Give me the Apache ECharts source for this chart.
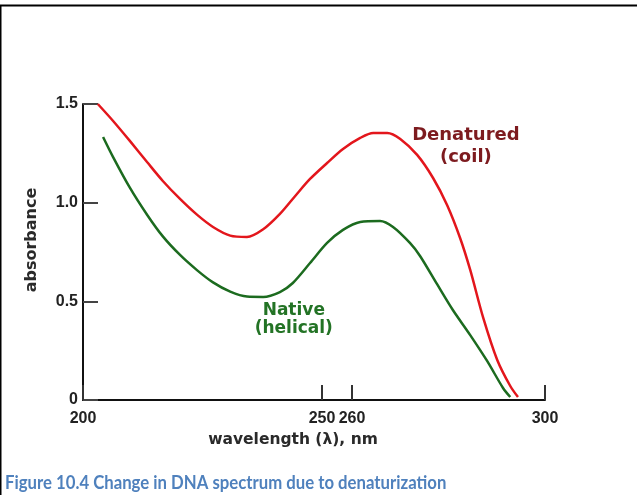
<!DOCTYPE html>
<html>
<head>
<meta charset="utf-8">
<script src="https://cdn.jsdelivr.net/npm/echarts@6/dist/echarts.min.js"></script>
<style>
html,body{margin:0;padding:0;background:#fff;}
#chart{width:637px;height:495px;}
</style>
</head>
<body>
<div id="chart"></div>
<script>
// ---- data ----
const wavelengthTicks = [200, 250, 260, 300];
const absorbanceTicks = [0, 0.5, 1.0, 1.5];

const denaturedWl  = [203.1, 206.3, 209.8, 213.4, 216.7, 220.3, 223.9, 227.2, 230.8, 234.3, 237.7, 241.2, 244.4, 247.5, 251.7, 257.0, 261.7, 264.4, 267.3, 270.0, 273.5, 276.8, 279.7, 282.4, 284.5, 287.2, 290.1, 292.8, 294.4];
const denaturedAbs = [1.500, 1.414, 1.313, 1.206, 1.110, 1.019, 0.938, 0.877, 0.833, 0.826, 0.865, 0.943, 1.034, 1.120, 1.201, 1.272, 1.328, 1.353, 1.353, 1.323, 1.242, 1.125, 0.988, 0.821, 0.659, 0.416, 0.203, 0.071, 0.015];

const nativeWl  = [204.2, 206.3, 209.8, 213.4, 216.7, 220.3, 223.9, 227.2, 230.8, 234.3, 237.7, 241.2, 243.9, 247.5, 251.7, 257.0, 261.7, 265.8, 268.5, 272.0, 274.1, 277.6, 280.9, 284.5, 288.0, 291.3, 292.8];
const nativeAbs = [1.333, 1.231, 1.076, 0.939, 0.829, 0.735, 0.657, 0.596, 0.549, 0.524, 0.522, 0.547, 0.593, 0.694, 0.796, 0.862, 0.902, 0.907, 0.877, 0.796, 0.730, 0.588, 0.456, 0.329, 0.198, 0.061, 0.015];

// The printed wavelength axis is not drawn to scale: tick k sits at this fraction of the axis length.
const tickFractions = [0, 0.5173, 0.5823, 1];

function warp(w) {
  const t = wavelengthTicks, f = tickFractions;
  let i = 0;
  while (i < t.length - 2 && w > t[i + 1]) i++;
  const fr = f[i] + (w - t[i]) / (t[i + 1] - t[i]) * (f[i + 1] - f[i]);
  return 200 + 100 * fr;
}
function unwarp(u) {
  const t = wavelengthTicks, f = tickFractions;
  const fr = (u - 200) / 100;
  let i = 0;
  while (i < f.length - 2 && fr > f[i + 1]) i++;
  return t[i] + (fr - f[i]) / (f[i + 1] - f[i]) * (t[i + 1] - t[i]);
}

const denaturedData = denaturedWl.map((w, i) => [warp(w), denaturedAbs[i]]);
const nativeData = nativeWl.map((w, i) => [warp(w), nativeAbs[i]]);

const chart = echarts.init(document.getElementById('chart'), null, {renderer: 'canvas'});

const axisFont = {fontFamily: '"Liberation Sans", Arial, sans-serif', fontWeight: 'bold', fontSize: 16, color: '#222'};
const nameFont = {fontFamily: '"DejaVu Sans", sans-serif', fontWeight: 'bold', color: '#2a2a2a'};

const option = {
  backgroundColor: '#fff',
  animation: false,
  grid: {left: 83, right: 92, top: 104, bottom: 95, containLabel: false, outerBoundsMode: 'none'},
  xAxis: {
    type: 'value', min: 200, max: 300,
    name: 'wavelength (λ), nm', nameLocation: 'middle', nameGap: 30,
    nameTextStyle: Object.assign({}, nameFont, {fontSize: 15.5, padding: [0, 42, 0, 0]}),
    axisLine: {lineStyle: {color: '#111', width: 2}},
    axisTick: {show: true, inside: true, length: 15, lineStyle: {color: '#333', width: 2},
      customValues: wavelengthTicks.map(warp)},
    axisLabel: Object.assign({}, axisFont, {margin: 11,
      customValues: wavelengthTicks.map(warp),
      formatter: v => String(Math.round(unwarp(v)))}),
    splitLine: {show: false}
  },
  yAxis: {
    type: 'value', min: 0, max: 1.5, interval: 0.5,
    name: 'absorbance', nameLocation: 'middle', nameGap: 43,
    nameTextStyle: Object.assign({}, nameFont, {fontSize: 16, padding: [0, 0, 0, 24]}),
    axisLine: {show: true, lineStyle: {color: '#111', width: 2}},
    axisTick: {show: true, inside: true, length: 15, lineStyle: {color: '#444', width: 2}},
    axisLabel: Object.assign({}, axisFont, {margin: 5,
      formatter: v => v === 0 ? '0' : v.toFixed(1)}),
    splitLine: {show: false}
  },
  series: [
    {
      name: 'Denatured (coil)', type: 'line', data: denaturedData,
      smooth: 0.3, showSymbol: false, symbol: 'none',
      lineStyle: {color: '#e3161c', width: 2.5}
    },
    {
      name: 'Native (helical)', type: 'line', data: nativeData,
      smooth: 0.3, showSymbol: false, symbol: 'none',
      lineStyle: {color: '#1c6b1f', width: 2.5}
    }
  ]
};
chart.setOption(option);

// curve labels, anchored in data space
const denLabelPos = chart.convertToPixel({gridIndex: 0}, [warp(283.6), 1.287]);
const natLabelPos = chart.convertToPixel({gridIndex: 0}, [warp(244.1), 0.408]);

chart.setOption({
  graphic: [
    {type: 'line', shape: {x1: 0, y1: 5.5, x2: 637, y2: 5.5}, style: {stroke: '#000', lineWidth: 2}, silent: true},
    {type: 'line', shape: {x1: 0.75, y1: 5, x2: 0.75, y2: 495}, style: {stroke: '#000', lineWidth: 1.5}, silent: true},
    {type: 'text', x: denLabelPos[0], y: denLabelPos[1],
      style: {text: 'Denatured\n(coil)', fill: '#7d1b1f', align: 'center', verticalAlign: 'middle',
        font: 'bold 18px "DejaVu Sans", sans-serif', lineHeight: 22}},
    {type: 'text', x: natLabelPos[0], y: natLabelPos[1],
      style: {text: 'Native\n(helical)', fill: '#237325', align: 'center', verticalAlign: 'middle',
        font: 'bold 17px "DejaVu Sans", sans-serif', lineHeight: 18}},
    {type: 'text', x: 5, y: 483, scaleX: 0.93,
      style: {text: 'Figure 10.4 Change in DNA spectrum due to denaturization', fill: '#4f81bd',
        align: 'left', verticalAlign: 'middle', font: 'bold 18px Lato, "Open Sans", sans-serif'}}
  ]
});
</script>
</body>
</html>
